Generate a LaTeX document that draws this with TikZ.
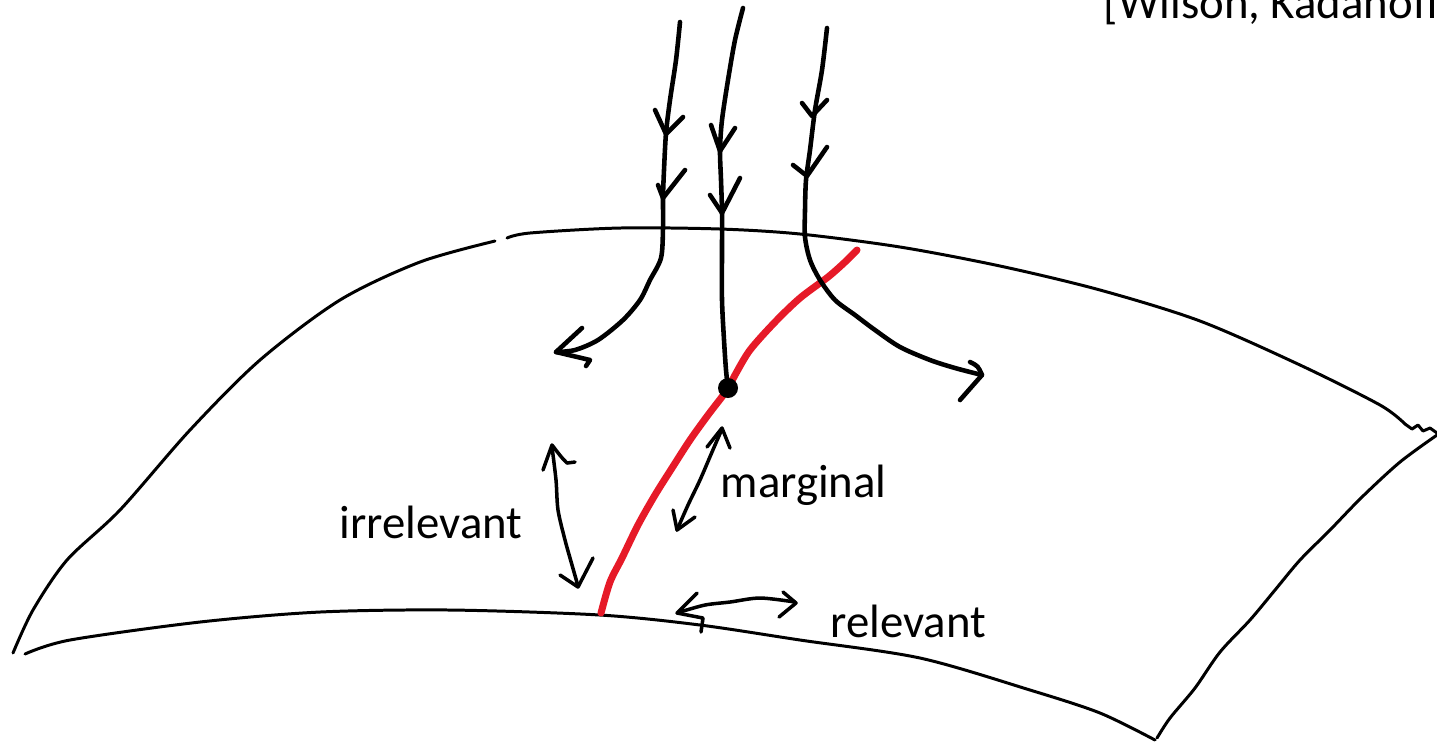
\documentclass[tikz,border=0pt]{standalone}
\usepackage{fontspec}
\setmainfont{Carlito}
\usepackage{xcolor}
\usetikzlibrary{positioning}
\definecolor{critred}{RGB}{230,26,40}

\begin{document}
\begin{tikzpicture}[
  x=0.01cm, y=-0.01cm,
  edge/.style={line width=0.85pt, line cap=round, line join=round},
  flow/.style={line width=1.3pt, line cap=round, line join=round},
  tilt/.style={line width=1pt, line cap=round, line join=round},
  critical/.style={line width=2pt, critred, line cap=round, line join=round},
  fixedpt/.style={circle, fill=black, inner sep=0pt, minimum size=0.2cm},
  label/.style={inner sep=0pt, anchor=base west, font=\fontsize{13.3}{16}\selectfont}
]
\useasboundingbox (0,0) rectangle (1437,741);

\coordinate (src1) at (680,22);
\coordinate (src2) at (743,8);
\coordinate (src3) at (827,28);
\coordinate (sink1) at (556,352);
\coordinate (sink3) at (982,375);
\coordinate (crit1) at (857,250);
\coordinate (crit2) at (601,613);

% surface
\draw[edge] plot[smooth] coordinates {(495,241) (420,262) (340,300) (260,360) (190,430) (120,510) (67,560) (33,610) (13,653)};
\draw[edge] plot[smooth] coordinates {(507,238) (530,233) (620,228) (720,229) (800,234) (900,247) (1000,266) (1100,290) (1200,321) (1300,365) (1380,405) (1405,424)};
\draw[edge] (1405,424) -- (1412,429) -- (1418,425) -- (1423,431) -- (1430,428) -- (1437,433);
\draw[edge] plot[smooth] coordinates {(1437,435) (1400,462) (1362,497) (1330,530) (1300,560) (1275,590) (1250,620) (1220,652) (1195,688) (1170,718) (1157,738)};
\draw[edge] plot[smooth] coordinates {(25,654) (70,640) (200,622) (320,612) (450,610) (600,615) (700,625) (800,640) (920,658) (1030,690) (1100,713) (1155,740)};

% critical line and fixed point
\draw[critical] plot[smooth] coordinates {(crit1) (845,262) (828,277) (800,298) (775,322) (750,350) (735,375) (727,390) (708,415) (690,440) (672,468) (655,495) (638,525) (622,558) (610,582) (crit2)};

% flows
\draw[flow] plot[smooth] coordinates {(src1) (676,60) (670,100) (666,133) (664,170) (663,197) (663,228) (661,258) (650,280) (640,300) (623,320) (598,340) (575,350) (sink1)};
\draw[flow] plot[smooth] coordinates {(src2) (735,40) (728,80) (722,120) (720,150) (721,180) (722,212) (722,250) (722,300) (724,340) (726,370) (728,388)};
\draw[flow] plot[smooth] coordinates {(src3) (822,70) (815,110) (810,150) (806,180) (805,210) (805,237) (810,260) (820,280) (835,300) (855,315) (875,330) (900,347) (930,360) (955,368) (sink3)};
\node[fixedpt] (fp) at (728,388) {};

\draw[flow] (655,110) -- (666,134) -- (683,117);
\draw[flow] (658,185) -- (663,198) -- (685,170);
\draw[flow] (711,125) -- (720,151) -- (735,128);
\draw[flow] (710,195) -- (722,213) -- (740,178);
\draw[flow] (802,103) -- (812,116) -- (827,100);
\draw[flow] (793,165) -- (807,176) -- (827,147);
\draw[flow] (582,328) -- (sink1) -- (590,360) -- (586,366);
\draw[flow] (970,362) .. controls (978,366) .. (sink3) -- (960,400);

% directions
\draw[tilt] plot[smooth] coordinates {(552,447) (556,480) (558,510) (565,540) (572,565) (578,586)};
\draw[tilt] (543,470) -- (552,445) .. controls (562,458) .. (567,463) -- (575,462);
\draw[tilt] (560,575) -- (578,587) -- (593,558);
\draw[tilt] plot[smooth] coordinates {(722,429) (712,452) (700,480) (688,505) (677,530)};
\draw[tilt] (707,447) -- (722,428) -- (730,448);
\draw[tilt] (673,510) -- (677,530) -- (695,517);
\draw[tilt] plot[smooth] coordinates {(680,612) (705,605) (730,602) (760,598) (795,602)};
\draw[tilt] (697,593) -- (677,613) -- (703,618) -- (701,632);
\draw[tilt] (783,592) -- (796,603) -- (779,617);

\node[label] (irrel) at (339,538) {irrelevant};
\node[label] (marg) at (720,497) {marginal};
\node[label] (rel) at (830,637) {relevant};
\node[label] (cite) at (1103,18) {[Wilson, Kadanoff]};
\end{tikzpicture}
\end{document}
